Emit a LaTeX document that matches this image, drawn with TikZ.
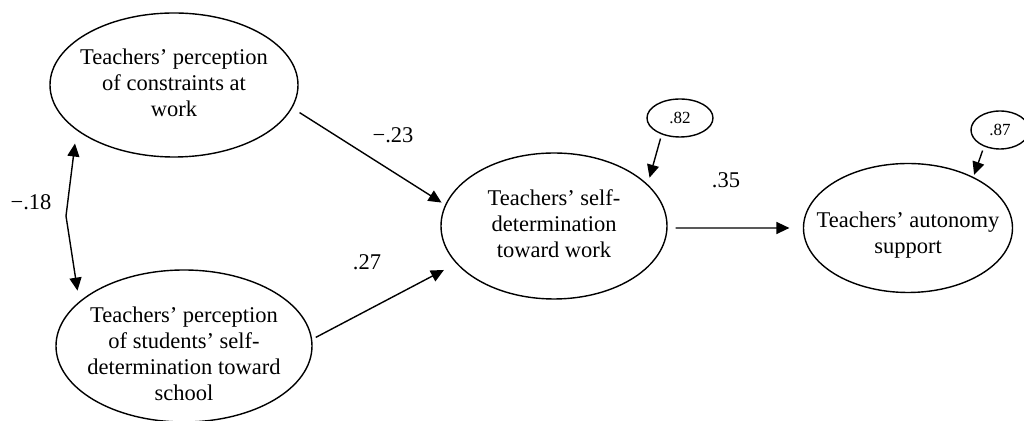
\documentclass[tikz,border=0pt]{standalone}
\usepackage{fontspec}
\setmainfont{Liberation Serif}
\usetikzlibrary{arrows.meta,shapes.geometric}
\newcommand{\ovaltext}[2][0pt]{\makebox[0pt]{\raisebox{\dimexpr-#1-0.25em\relax}[0pt][0pt]{\begin{tabular}{@{}c@{}}#2\end{tabular}}}}

\begin{document}
\begin{tikzpicture}[x=0.5pt,y=-0.5pt,>={Triangle[length=6.5pt,width=6pt]}]
\tikzstyle{every node}=[inner sep=0pt]
\tikzstyle{oval}=[draw,ellipse,line width=0.7pt,font=\fontsize{11.25}{13}\selectfont]
\tikzstyle{resid}=[draw,ellipse,line width=0.7pt,font=\fontsize{8.5}{10}\selectfont]
\tikzstyle{coef}=[font=\fontsize{11.25}{13}\selectfont]
\tikzstyle{effect}=[->,line width=0.7pt]
\useasboundingbox (0,0) rectangle (1024,421);
\draw (174,85) node (work) [oval,minimum width=124pt,minimum height=72pt] {\ovaltext{Teachers’ perception\\of constraints at\\work}};
\draw (184,346) node (stud) [oval,minimum width=128pt,minimum height=76pt] {\ovaltext[5pt]{Teachers’ perception\\of students’ self-\\determination toward\\school}};
\draw (554,226) node (self) [oval,minimum width=113pt,minimum height=73pt] {\ovaltext{Teachers’ self-\\determination\\toward work}};
\draw (908,228) node (auto) [oval,minimum width=104.5pt,minimum height=64.5pt] {\ovaltext[3.6pt]{Teachers’ autonomy\\support}};
\draw (680,118) node (r1) [resid,minimum width=33pt,minimum height=19pt] {.82};
\draw (1000,130) node (r2) [resid,minimum width=29pt,minimum height=19pt] {.87};
\draw (393,135) node (l23) [coef] {−.23};
\draw (31,202) node (l18) [coef] {−.18};
\draw (367,262) node (l27) [coef] {.27};
\draw (726,180) node (l35) [coef] {.35};
\coordinate (k) at (66,216);
\draw[effect,shorten <=4.3pt,shorten >=2.1pt] (work.-11.8) -- (self.169.2);
\draw[effect,shorten <=2pt,shorten >=6.9pt] (stud.3.2) -- (self.201.3);
\draw[effect,shorten <=4pt,shorten >=6.7pt] (self.-1) -- (auto.180);
\draw[effect,shorten <=2.1pt,shorten >=3.4pt] (r1.222.2) -- (self.24.8);
\draw[effect,shorten <=2.1pt,shorten >=1.1pt] (r2.226.2) -- (auto.38.4);
\draw[<->,line width=0.7pt,shorten <=6.6pt,shorten >=5.5pt] (work.205.3) -- (k) -- (stud.157.8);
\end{tikzpicture}
\end{document}
